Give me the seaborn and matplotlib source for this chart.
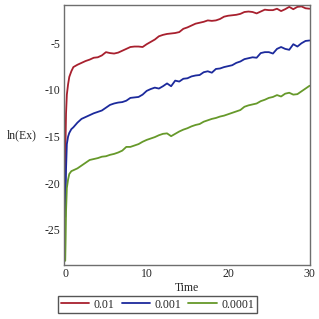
import matplotlib
matplotlib.use("Agg")
import matplotlib.pyplot as plt
import numpy as np
import pandas as pd
import seaborn as sns
from matplotlib.ticker import MultipleLocator

# ---------- data ----------
time_early = [0.0, 0.05, 0.1, 0.2, 0.35, 0.5, 0.75]
time_main = [1.0 + 0.5 * i for i in range(59)]  # 1.0 .. 30.0
time = time_early + time_main

ln_ex_001 = [-20.3, -15.0, -12.5, -10.5, -9.4, -8.6, -8.0,
             -7.55, -7.3, -7.1, -6.9, -6.75, -6.55, -6.5, -6.3, -5.95, -6.05,
             -6.1, -6.0, -5.8, -5.6, -5.4, -5.35, -5.35, -5.4, -5.1, -4.85,
             -4.6, -4.25, -4.1, -4.0, -3.95, -3.9, -3.8, -3.45, -3.3, -3.1,
             -2.9, -2.8, -2.7, -2.55, -2.6, -2.55, -2.4, -2.15, -2.05, -2.0,
             -1.95, -1.85, -1.65, -1.6, -1.65, -1.8, -1.6, -1.4, -1.45, -1.45,
             -1.3, -1.55, -1.35, -1.1, -1.35, -1.1, -1.05, -1.25, -1.3]

ln_ex_0001 = [-23.6, -21.0, -18.5, -15.8, -15.0, -14.6, -14.2,
              -14.0, -13.5, -13.1, -12.9, -12.7, -12.5, -12.35, -12.2, -11.9, -11.6,
              -11.45, -11.35, -11.3, -11.15, -10.85, -10.8, -10.75, -10.5, -10.1, -9.9,
              -9.75, -9.85, -9.6, -9.3, -9.6, -9.0, -9.1, -8.8, -8.75, -8.55,
              -8.45, -8.4, -8.1, -8.0, -8.15, -7.75, -7.7, -7.55, -7.45, -7.35,
              -7.1, -6.95, -6.7, -6.6, -6.5, -6.55, -6.05, -5.95, -5.95, -6.1,
              -5.6, -5.4, -5.6, -5.7, -5.1, -5.35, -5.0, -4.75, -4.7]

ln_ex_00001 = [-28.3, -26.0, -23.0, -20.5, -19.6, -19.0, -18.7,
               -18.6, -18.4, -18.1, -17.8, -17.5, -17.4, -17.3, -17.15, -17.1, -16.95,
               -16.85, -16.7, -16.5, -16.1, -16.1, -15.95, -15.8, -15.55, -15.35, -15.2,
               -15.05, -14.85, -14.7, -14.65, -14.95, -14.7, -14.45, -14.25, -14.1, -13.9,
               -13.75, -13.65, -13.4, -13.25, -13.1, -13.0, -12.85, -12.75, -12.6, -12.45,
               -12.3, -12.15, -11.8, -11.65, -11.55, -11.45, -11.2, -11.05, -10.85, -10.75,
               -10.55, -10.7, -10.4, -10.3, -10.5, -10.45, -10.15, -9.85, -9.55]

labels = ["0.01", "0.001", "0.0001"]
colors = ["#a8202e", "#1c2a9c", "#66992a"]

df = pd.concat([
    pd.DataFrame({"Time": time, "lnEx": vals, "eps": lab})
    for vals, lab in zip([ln_ex_001, ln_ex_0001, ln_ex_00001], labels)
])

# ---------- style ----------
sns.set_style("white")
plt.rcParams["font.family"] = ["Liberation Serif", "DejaVu Serif"]
plt.rcParams["axes.unicode_minus"] = False

fig = plt.figure(figsize=(3.19, 3.19), dpi=100)
ax = fig.add_axes([64 / 319, 1 - 265 / 319, 246 / 319, 260 / 319])

sns.lineplot(data=df, x="Time", y="lnEx", hue="eps", hue_order=labels,
             palette=dict(zip(labels, colors)), linewidth=1.3, ax=ax,
             estimator=None, sort=False)

ax.set_xlim(-0.15, 30.05)
ax.set_ylim(-28.75, -0.9)
ax.xaxis.set_major_locator(MultipleLocator(10))
ax.xaxis.set_minor_locator(MultipleLocator(5))
ax.yaxis.set_major_locator(MultipleLocator(5))
ax.yaxis.set_minor_locator(MultipleLocator(1))
ax.set_yticks([-25, -20, -15, -10, -5])
ax.tick_params(axis="both", which="major", labelsize=8.5, length=3,
               width=0.8, color="#555555", direction="inout")
ax.tick_params(axis="both", which="minor", length=2, width=0.6,
               color="#555555", direction="out")
ax.tick_params(axis="x", which="major", pad=1)
ax.tick_params(axis="y", which="major", pad=1)

for sp in ax.spines.values():
    sp.set_color("#6e6e6e")
    sp.set_linewidth(1.0)

ax.set_xlabel("Time", fontsize=8.5, labelpad=1)
ax.set_ylabel("ln(Ex)", fontsize=8.5, rotation=0, labelpad=18, va="center")
ax.yaxis.set_label_coords(-0.17, 0.5)

ax.legend(loc="center", bbox_to_anchor=(157.5 / 319, 1 - 304.5 / 319),
          bbox_transform=fig.transFigure, ncol=3, fontsize=8.5,
          frameon=True, fancybox=False, edgecolor="#555555",
          handlelength=2.4, handletextpad=0.4, columnspacing=0.6,
          borderpad=0.25, framealpha=1)
ax.get_legend().get_frame().set_linewidth(1.0)

fig.savefig("out.png", dpi=100, facecolor="white")
